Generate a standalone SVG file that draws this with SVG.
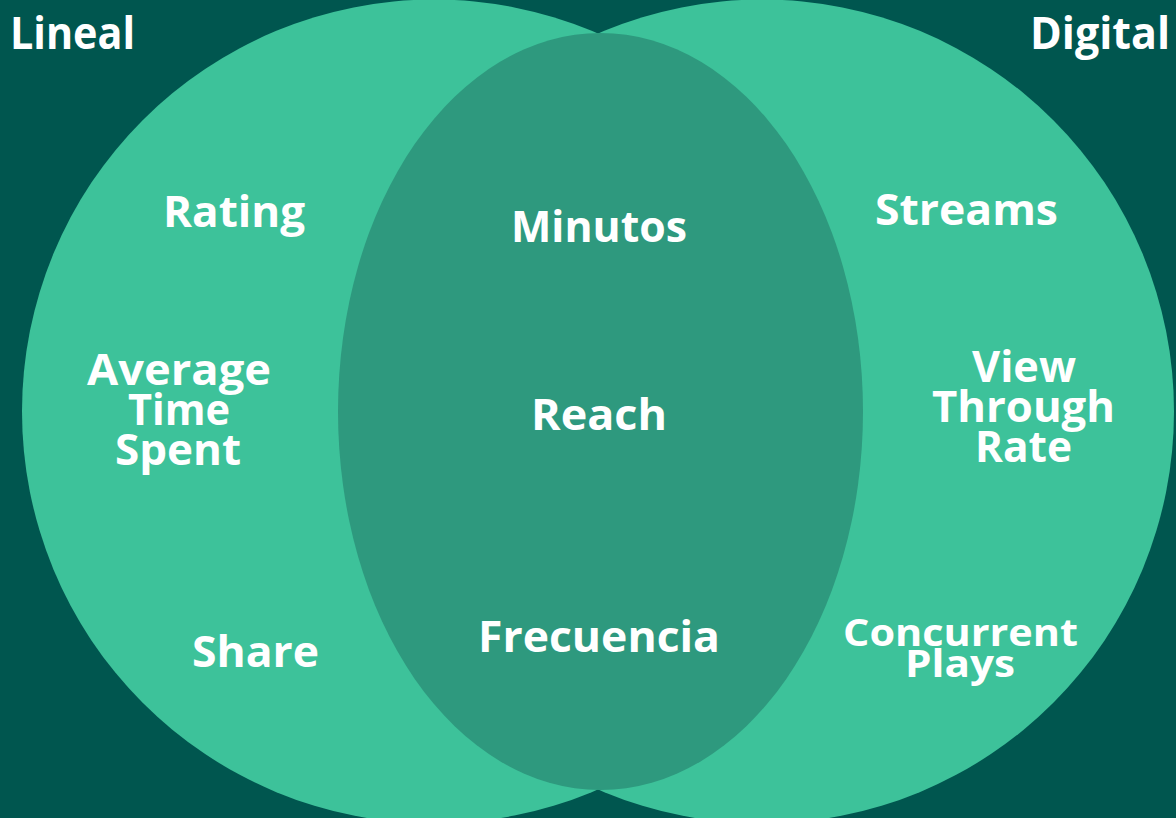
<svg xmlns="http://www.w3.org/2000/svg" width="1176" height="818" viewBox="0 0 1176 818">
<style>
.t{font-family:"Open Sans","Liberation Sans",sans-serif;font-weight:700;fill:#ffffff;font-size:43px;text-anchor:middle}
.h{font-size:44px;text-anchor:start}
.s{font-size:38px}
</style>
<rect width="1176" height="818" fill="#00564F"/>
<g id="lineal-circle"><circle cx="434" cy="411.5" r="412" fill="#3DC29A"/></g>
<g id="digital-circle"><circle cx="762" cy="411.5" r="412" fill="#3DC29A"/></g>
<g id="overlap"><ellipse cx="600.5" cy="411.5" rx="262.5" ry="378.5" fill="#2E997E"/></g>
<g id="connectors"></g>
<g id="label-lineal"><text class="t h" x="10" y="49" textLength="125" lengthAdjust="spacingAndGlyphs">Lineal</text></g>
<g id="label-digital"><text class="t h" x="1030" y="49" textLength="140" lengthAdjust="spacingAndGlyphs">Digital</text></g>
<g id="rating"><text class="t" x="234" y="227" textLength="142" lengthAdjust="spacingAndGlyphs">Rating</text></g>
<g id="minutos"><text class="t" x="599" y="242" textLength="176" lengthAdjust="spacingAndGlyphs">Minutos</text></g>
<g id="streams"><text class="t" x="966.5" y="225" textLength="183" lengthAdjust="spacingAndGlyphs">Streams</text></g>
<g id="ats">
<text class="t" x="179" y="385" textLength="184" lengthAdjust="spacingAndGlyphs">Average</text>
<text class="t" x="179" y="425" textLength="102" lengthAdjust="spacingAndGlyphs">Time</text>
<text class="t" x="178" y="465" textLength="126" lengthAdjust="spacingAndGlyphs">Spent</text>
</g>
<g id="reach"><text class="t" x="599" y="430" textLength="136" lengthAdjust="spacingAndGlyphs">Reach</text></g>
<g id="vtr">
<text class="t" x="1024" y="382" textLength="104" lengthAdjust="spacingAndGlyphs">View</text>
<text class="t" x="1023.5" y="422" textLength="183" lengthAdjust="spacingAndGlyphs">Through</text>
<text class="t" x="1023.5" y="462" textLength="97" lengthAdjust="spacingAndGlyphs">Rate</text>
</g>
<g id="share"><text class="t" x="255.5" y="667" textLength="127" lengthAdjust="spacingAndGlyphs">Share</text></g>
<g id="frecuencia"><text class="t" x="599" y="652" textLength="242" lengthAdjust="spacingAndGlyphs">Frecuencia</text></g>
<g id="concurrent">
<text class="t s" x="960.5" y="646" textLength="235" lengthAdjust="spacingAndGlyphs">Concurrent</text>
<text class="t s" x="960" y="677" textLength="110" lengthAdjust="spacingAndGlyphs">Plays</text>
</g>
</svg>
